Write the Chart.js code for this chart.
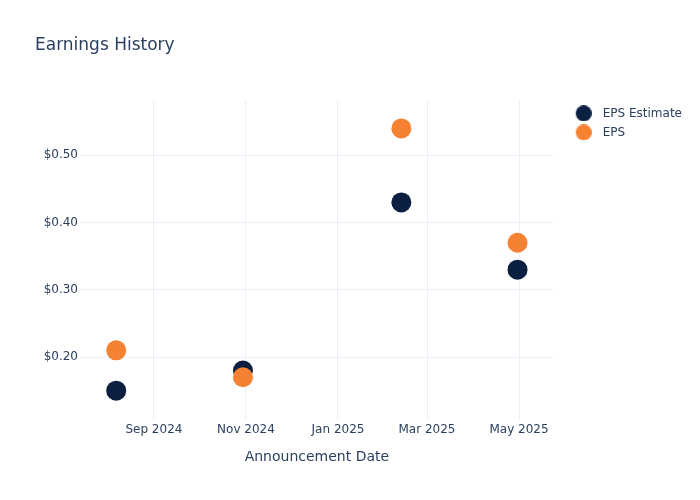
<!DOCTYPE html>
<html>
<head>
<meta charset="utf-8">
<script src="https://cdn.jsdelivr.net/npm/chart.js@4"></script>
<style>
  html, body { margin: 0; padding: 0; background: #fff; }
  #wrap { width: 700px; height: 500px; }
</style>
</head>
<body>
<div id="wrap"><canvas id="chart" width="700" height="500"></canvas></div>
<script>
// data
const dates = ['2024-08-07', '2024-10-30', '2025-02-12', '2025-04-30'];
const epsEstimate = [0.15, 0.18, 0.43, 0.33];
const epsActual = [0.21, 0.17, 0.54, 0.37];
const seriesNames = ['EPS Estimate', 'EPS'];
const seriesColors = ['#0b1f41', '#f58233'];

const xTickDates = ['2024-09-01', '2024-11-01', '2025-01-01', '2025-03-01', '2025-05-01'];
const xTickLabels = ['Sep 2024', 'Nov 2024', 'Jan 2025', 'Mar 2025', 'May 2025'];
const xRange = ['2024-07-14', '2025-05-24'];
const yTicks = [0.2, 0.3, 0.4, 0.5];
const yRange = [0.1064, 0.5817];

const txt = '#2a3f5f';
const gridCol = '#ebf0f8';
const ts = s => Date.parse(s + 'T00:00:00Z');

// round swatch for the legend, drawn a bit right of centre
function dot(color) {
  const c = document.createElement('canvas');
  c.width = 26; c.height = 16;
  const g = c.getContext('2d');
  g.fillStyle = color;
  g.beginPath();
  g.arc(18, 8, 8, 0, Math.PI * 2);
  g.fill();
  return c;
}

const points = vals => vals.map((v, i) => ({x: ts(dates[i]), y: v}));

new Chart(document.getElementById('chart').getContext('2d'), {
  type: 'scatter',
  data: {
    datasets: [
      {label: seriesNames[0], data: points(epsEstimate), backgroundColor: seriesColors[0],
       pointRadius: 10, pointHoverRadius: 10, pointBorderWidth: 0, order: 2},
      {label: seriesNames[1], data: points(epsActual), backgroundColor: seriesColors[1],
       pointRadius: 10, pointHoverRadius: 10, pointBorderWidth: 0, order: 1}
    ]
  },
  options: {
    responsive: false,
    animation: false,
    events: [],
    layout: {padding: {left: 35, top: 0, right: 8, bottom: 0}},
    font: {family: '"DejaVu Sans", sans-serif'},
    plugins: {
      title: {
        display: true, text: 'Earnings History', align: 'start', color: txt,
        font: {size: 17, weight: 'normal', family: '"DejaVu Sans", sans-serif'},
        padding: {top: 35, bottom: 45}
      },
      legend: {
        position: 'right', align: 'start', fullSize: false,
        labels: {
          color: txt, usePointStyle: true, pointStyleWidth: 36, padding: 7,
          font: {size: 12, family: '"DejaVu Sans", sans-serif'},
          generateLabels: chart => Chart.defaults.plugins.legend.labels.generateLabels(chart)
            .map(it => Object.assign(it, {pointStyle: dot(seriesColors[it.datasetIndex])})),
          sort: (a, b) => a.datasetIndex - b.datasetIndex
        }
      },
      tooltip: {enabled: false}
    },
    scales: {
      x: {
        type: 'linear', min: ts(xRange[0]), max: ts(xRange[1]),
        grid: {color: gridCol, drawTicks: false},
        border: {display: false},
        afterBuildTicks: s => { s.ticks = xTickDates.map(d => ({value: ts(d)})); },
        afterFit: s => { s.height = 80; },
        ticks: {
          color: txt, padding: 3, maxRotation: 0,
          font: {size: 12, family: '"DejaVu Sans", sans-serif'},
          callback: (v, i) => xTickLabels[i]
        },
        title: {
          display: true, text: 'Announcement Date', color: txt,
          font: {size: 14, family: '"DejaVu Sans", sans-serif'},
          padding: {top: 0, bottom: 34}
        }
      },
      y: {
        min: yRange[0], max: yRange[1],
        grid: {color: gridCol, drawTicks: false},
        border: {display: false},
        afterBuildTicks: s => { s.ticks = yTicks.map(v => ({value: v})); },
        afterFit: s => { s.width = 45; },
        ticks: {
          color: txt, padding: 2,
          font: {size: 12, family: '"DejaVu Sans", sans-serif'},
          callback: v => '$' + Number(v).toFixed(2)
        }
      }
    }
  }
});
</script>
</body>
</html>
